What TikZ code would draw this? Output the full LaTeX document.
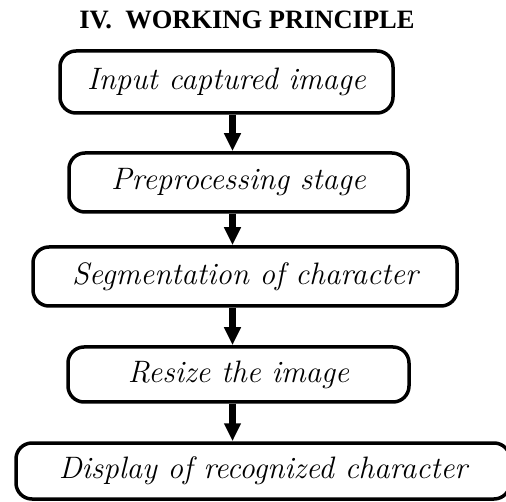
\documentclass[tikz,border=0pt]{standalone}
\usepackage{fontspec}
\newfontfamily\titlefont{Liberation Serif}
\usetikzlibrary{arrows.meta}
\begin{document}
\begin{tikzpicture}[x=1pt,y=-1pt]
            \tikzset{
                stage/.style={draw, line width=3.5pt, rounded corners=16pt, inner sep=0pt, font=\fontsize{31}{35}\selectfont\itshape},
                arc/.style={-{Triangle[length=18pt,width=16pt]}, line width=6.5pt}
            }
            \useasboundingbox (0,0) rectangle (506,502);
            \node[font=\titlefont\bfseries\fontsize{26.5}{30}\selectfont] (title) at (247,20) {IV.\ \ WORKING PRINCIPLE};
            \coordinate (axis) at (232.5,0);
            \draw node[stage, minimum width=333pt, minimum height=62pt] (input) at (226.5,82) {Input captured image};
            \draw node[stage, minimum width=339pt, minimum height=59pt] (prep) at (238.5,182.5) {Preprocessing stage};
            \draw node[stage, minimum width=424pt, minimum height=59pt] (segm) at (245,276.5) {Segmentation of character};
            \draw node[stage, minimum width=341pt, minimum height=55pt] (resize) at (238.5,374.5) {Resize the image};
            \draw node[stage, minimum width=494pt, minimum height=56pt] (disp) at (263,471) {Display of recognized character};
            \foreach \x/\y in {%
            input/prep, prep/segm, segm/resize, resize/disp%
            }{
                \draw (\x.south -| axis) edge[arc] (\y.north -| axis);
            }
        \end{tikzpicture}
\end{document}
